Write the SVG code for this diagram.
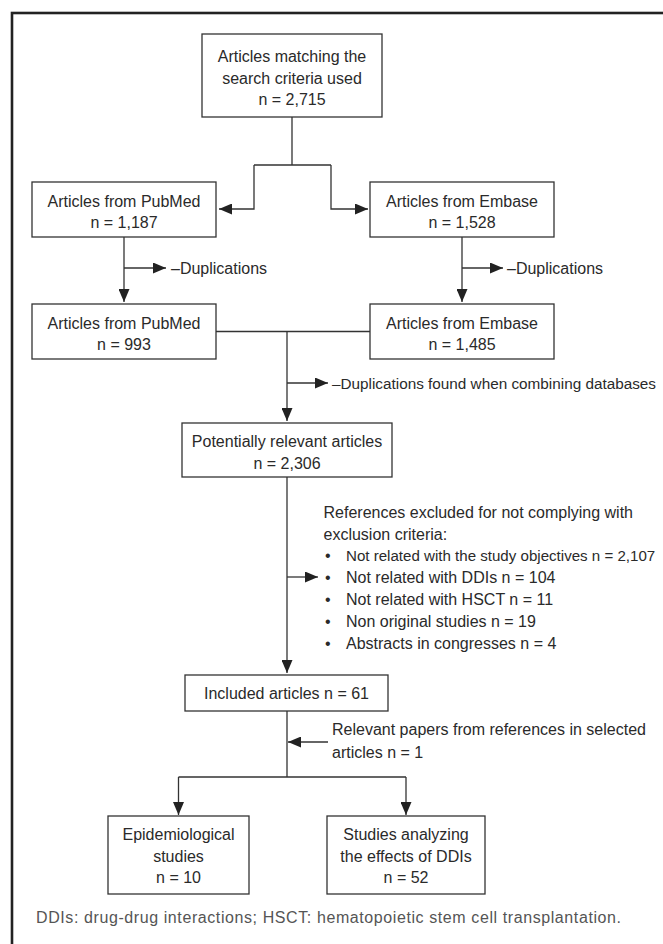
<svg xmlns="http://www.w3.org/2000/svg" width="663" height="944" viewBox="0 0 663 944">
<style>
  .box { fill: #fff; stroke: #333; stroke-width: 1.3; }
  .ln { fill: none; stroke: #333; stroke-width: 1.3; }
  .ar { fill: none; stroke: #333; stroke-width: 1.3; marker-end: url(#ah); }
  text { font-family: "Liberation Sans", Arial, sans-serif; font-size: 16px; fill: #2a2a2a; }
  .c { text-anchor: middle; }
  .foot { fill: #555; }
</style>
<defs>
  <marker id="ah" markerUnits="userSpaceOnUse" viewBox="0 0 13 11" markerWidth="13" markerHeight="11" refX="13" refY="5.5" orient="auto">
    <path d="M0,0 L13,5.5 L0,11 z" fill="#222"/>
  </marker>
</defs>
<rect width="663" height="944" fill="#fff"/>
<rect id="frame" x="12" y="13" width="700" height="1000" fill="none" stroke="#222" stroke-width="2.6"/>

<g id="connectors">
  <path class="ln" d="M292,117 V165 M254,165 H331"/>
  <path class="ar" d="M254,165 V209 H219"/>
  <path class="ar" d="M331,165 V209 H368"/>
  <path class="ar" d="M124,237 V302"/>
  <path class="ar" d="M124,268 H166"/>
  <path class="ar" d="M462,237 V302"/>
  <path class="ar" d="M462,268 H503"/>
  <path class="ln" d="M216,331.5 H370"/>
  <path class="ar" d="M287,331.5 V421"/>
  <path class="ar" d="M287,383 H328"/>
  <path class="ar" d="M287,477 V673"/>
  <path class="ar" d="M287,577 H318"/>
  <path class="ln" d="M287,711 V777 M178.5,777 H406"/>
  <path class="ar" d="M328,742 H288"/>
  <path class="ar" d="M178.5,777 V815"/>
  <path class="ar" d="M406,777 V815"/>
</g>

<g id="n-search">
  <rect class="box" x="202" y="34" width="180" height="83"/>
  <text class="c" x="292" y="62">Articles matching the</text>
  <text class="c" x="292" y="84">search criteria used</text>
  <text class="c" x="292" y="105">n = 2,715</text>
</g>
<g id="n-pubmed1">
  <rect class="box" x="32" y="182" width="184" height="55"/>
  <text class="c" x="124" y="207">Articles from PubMed</text>
  <text class="c" x="124" y="228">n = 1,187</text>
</g>
<g id="n-embase1">
  <rect class="box" x="370" y="182" width="184" height="55"/>
  <text class="c" x="462" y="207">Articles from Embase</text>
  <text class="c" x="462" y="228">n = 1,528</text>
</g>
<g id="l-dup1"><text x="171" y="273.5">–Duplications</text></g>
<g id="l-dup2"><text x="507" y="273.5">–Duplications</text></g>
<g id="n-pubmed2">
  <rect class="box" x="32" y="304" width="184" height="55"/>
  <text class="c" x="124" y="329">Articles from PubMed</text>
  <text class="c" x="124" y="350">n = 993</text>
</g>
<g id="n-embase2">
  <rect class="box" x="370" y="304" width="184" height="55"/>
  <text class="c" x="462" y="329">Articles from Embase</text>
  <text class="c" x="462" y="350">n = 1,485</text>
</g>
<g id="l-dup3"><text x="332" y="388.5" style="font-size:15.3px">–Duplications found when combining databases</text></g>
<g id="n-potential">
  <rect class="box" x="182" y="423" width="210" height="54"/>
  <text class="c" x="287" y="447">Potentially relevant articles</text>
  <text class="c" x="287" y="469">n = 2,306</text>
</g>
<g id="l-excluded">
  <text x="323.5" y="518">References excluded for not complying with</text>
  <text x="323.5" y="540">exclusion criteria:</text>
  <text x="325" y="561">•</text><text x="346" y="561" style="font-size:15.1px">Not related with the study objectives n = 2,107</text>
  <text x="325" y="583">•</text><text x="346" y="583">Not related with DDIs n = 104</text>
  <text x="325" y="605">•</text><text x="346" y="605">Not related with HSCT n = 11</text>
  <text x="325" y="627">•</text><text x="346" y="627">Non original studies n = 19</text>
  <text x="325" y="649">•</text><text x="346" y="649">Abstracts in congresses n = 4</text>
</g>
<g id="n-included">
  <rect class="box" x="185" y="675" width="203" height="36"/>
  <text class="c" x="286.5" y="698.5">Included articles n = 61</text>
</g>
<g id="l-relevant">
  <text x="332" y="735">Relevant papers from references in selected</text>
  <text x="332" y="758">articles n = 1</text>
</g>
<g id="n-epi">
  <rect class="box" x="108" y="816" width="141" height="78"/>
  <text class="c" x="178.5" y="840">Epidemiological</text>
  <text class="c" x="178.5" y="862">studies</text>
  <text class="c" x="178.5" y="883">n = 10</text>
</g>
<g id="n-studies">
  <rect class="box" x="327" y="816" width="158" height="78"/>
  <text class="c" x="406" y="840">Studies analyzing</text>
  <text class="c" x="406" y="862">the effects of DDIs</text>
  <text class="c" x="406" y="883">n = 52</text>
</g>
<text class="foot" x="36" y="923" textLength="585" lengthAdjust="spacing">DDIs: drug-drug interactions; HSCT: hematopoietic stem cell transplantation.</text>
</svg>
